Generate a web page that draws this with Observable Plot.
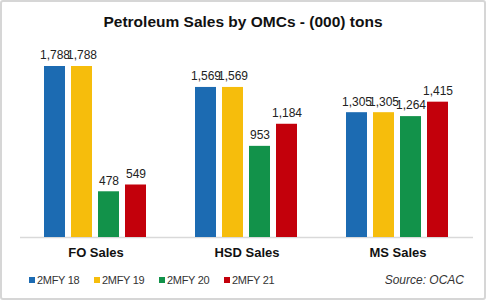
<!DOCTYPE html>
<html>
<head>
<meta charset="utf-8">
<script src="https://cdn.jsdelivr.net/npm/d3@7"></script>
<script src="https://cdn.jsdelivr.net/npm/@observablehq/plot@0.6"></script>
<style>
  body { margin: 0; background: #fff; font-family: "Liberation Sans", Arial, sans-serif; }
  #wrap { position: relative; width: 486px; height: 300px; overflow: hidden; background: #fff; }
  #border { position: absolute; left: 0; top: 0; width: 486px; height: 300px; box-sizing: border-box;
    border: 2px solid #d6d6d6; border-radius: 3px; pointer-events: none; }
  #title { position: absolute; left: 0; width: 486px; top: 13px; text-align: center;
    font-weight: bold; font-size: 15.5px; color: #111; }
  #chart { position: absolute; left: 0; top: 40px; }
  #legend { position: absolute; left: 29px; top: 274px; font-size: 11px; color: #333; }
  .item { position: absolute; top: 0; display: flex; align-items: center; white-space: nowrap; letter-spacing: -0.3px; }
  .sw { width: 6px; height: 6px; margin-right: 2px; }
  #source { position: absolute; right: 22px; top: 273px; font-size: 12px; font-style: italic; color: #333; }
</style>
</head>
<body>
<div id="wrap">
  <div id="title">Petroleum Sales by OMCs - (000) tons</div>
  <div id="chart"></div>
  <div id="legend"></div>
  <div id="source">Source: OCAC</div>
  <div id="border"></div>
</div>
<script>
const groups = ["FO Sales", "HSD Sales", "MS Sales"];
const series = ["2MFY 18", "2MFY 19", "2MFY 20", "2MFY 21"];
const fy18 = [1788, 1569, 1305];
const fy19 = [1788, 1569, 1305];
const fy20 = [478, 953, 1264];
const fy21 = [549, 1184, 1415];
const colors = ["#1c6bb2", "#f6bd0c", "#12924a", "#c3000b"];

const seriesValues = [fy18, fy19, fy20, fy21];
const data = [];
groups.forEach((g, gi) => {
  series.forEach((s, si) => data.push({group: g, series: s, value: seriesValues[si][gi]}));
});
const fmt = d3.format(",");

const chart = Plot.plot({
  width: 486,
  height: 222,
  marginLeft: 20,
  marginRight: 13,
  marginTop: 26,
  marginBottom: 25,
  style: {fontFamily: "'Liberation Sans', Arial, sans-serif", background: "transparent"},
  facet: {data, x: "group", marginTop: 0, marginBottom: 0, marginLeft: 0, marginRight: 0},
  fx: {domain: groups, padding: 0, axis: null},
  x: {domain: series, axis: null, paddingInner: 0.22, paddingOuter: 0.9},
  y: {domain: [0, 1788], axis: null},
  color: {domain: series, range: colors},
  marks: [
    Plot.ruleY([0], {stroke: "#d9d9d9", strokeWidth: 1.5}),
    Plot.barY(data, {x: "series", y: "value", fill: "series"}),
    Plot.text(data, {x: "series", y: "value", text: d => fmt(d.value), dy: -11, fontSize: 12, fill: "#222"}),
    Plot.text(data, {text: d => d.series === series[0] ? d.group : null, frameAnchor: "bottom", dy: 19,
      fontSize: 13, fontWeight: "bold", fill: "#111"})
  ]
});
document.getElementById("chart").appendChild(chart);

const legend = document.getElementById("legend");
series.forEach((s, i) => {
  const it = document.createElement("div");
  it.className = "item";
  it.style.left = (i * 65) + "px";
  const sw = document.createElement("div");
  sw.className = "sw";
  sw.style.background = colors[i];
  const t = document.createElement("span");
  t.textContent = s;
  it.appendChild(sw); it.appendChild(t);
  legend.appendChild(it);
});
</script>
</body>
</html>
